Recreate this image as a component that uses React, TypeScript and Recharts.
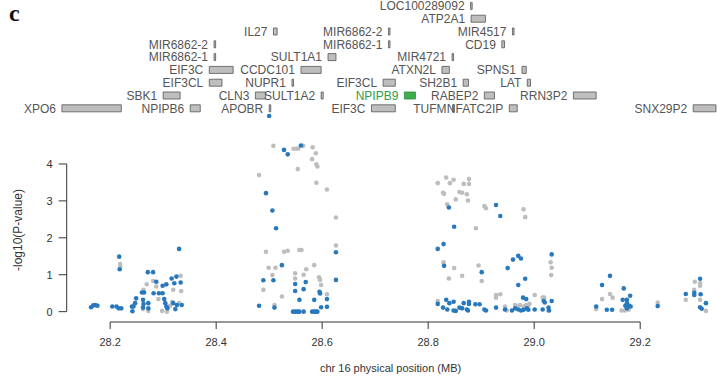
import { ComposedChart, Scatter, XAxis, YAxis, ReferenceArea, ReferenceLine } from 'recharts';

// axis ticks
const xTicks = [28.2, 28.4, 28.6, 28.8, 29.0, 29.2];
const yTicks = [0, 1, 2, 3, 4];

// gene track (MB), row 0 = lowest row
const geneNames = ['XPO6', 'NPIPB6', 'APOBR', 'EIF3C', 'TUFM', 'NFATC2IP', 'SNX29P2',
    'SBK1', 'CLN3', 'SULT1A2', 'NPIPB9', 'RABEP2', 'RRN3P2',
    'EIF3CL', 'NUPR1', 'EIF3CL', 'SH2B1', 'LAT',
    'EIF3C', 'CCDC101', 'ATXN2L', 'SPNS1',
    'MIR6862-1', 'SULT1A1', 'MIR4721',
    'MIR6862-2', 'MIR6862-1', 'CD19',
    'IL27', 'MIR6862-2', 'MIR4517',
    'ATP2A1',
    'LOC100289092'];
const geneStart = [28.109, 28.351, 28.500, 28.693, 28.846, 28.953, 29.300,
    28.300, 28.474, 28.598, 28.755, 28.906, 29.074,
    28.387, 28.543, 28.715, 28.866, 28.987,
    28.387, 28.560, 28.826, 28.977,
    28.396, 28.611, 28.845,
    28.396, 28.725, 28.939,
    28.508, 28.725, 28.959,
    28.881,
    28.880];
const geneEnd = [28.221, 28.370, 28.503, 28.738, 28.848, 28.968, 29.343,
    28.332, 28.493, 28.602, 28.776, 28.925, 29.117,
    28.411, 28.546, 28.738, 28.876, 28.993,
    28.432, 28.598, 28.840, 28.985,
    28.399, 28.626, 28.848,
    28.399, 28.728, 28.944,
    28.515, 28.728, 28.962,
    28.908,
    28.883];
const geneRow = [0, 0, 0, 0, 0, 0, 0,
    1, 1, 1, 1, 1, 1,
    2, 2, 2, 2, 2,
    3, 3, 3, 3,
    4, 4, 4,
    5, 5, 5,
    6, 6, 6,
    7,
    8];
const highlightGene = 'NPIPB9';

// SNPs: [position MB, -log10 p]
const greyPoints: [number, number][] = [
    [28.219, 1.29], [28.219, 1.22], [28.263, 0.59], [28.269, 0.74], [28.281, 0.83], [28.287, 0.68],
    [28.291, 0.34], [28.307, 0.0], [28.298, 0.02], [28.313, 0.16], [28.319, 0.59], [28.333, 0.97],
    [28.334, 0.56], [28.330, 0.23], [28.272, 0.02], [28.262, 0.07], [28.317, 0.27],
    [28.508, 4.49], [28.546, 4.41], [28.551, 4.41], [28.555, 4.42], [28.564, 4.49], [28.582, 4.45],
    [28.588, 4.29], [28.581, 4.13], [28.589, 3.99], [28.591, 3.93], [28.481, 3.70], [28.554, 3.86],
    [28.589, 3.49], [28.609, 3.31], [28.626, 2.55],
    [28.494, 1.62], [28.528, 1.62], [28.535, 1.65], [28.557, 1.67], [28.561, 1.67], [28.626, 1.79],
    [28.499, 1.19], [28.512, 1.19], [28.506, 0.99], [28.570, 1.15], [28.565, 1.00], [28.585, 1.26],
    [28.549, 1.04], [28.549, 0.90], [28.594, 0.93], [28.596, 0.86], [28.598, 0.72], [28.489, 0.59],
    [28.524, 0.41], [28.510, 0.18], [28.609, 0.47],
    [28.818, 3.48], [28.834, 3.63], [28.841, 3.48], [28.848, 3.57], [28.867, 3.46], [28.877, 3.46],
    [28.877, 3.59], [28.828, 3.22], [28.830, 3.19], [28.859, 3.24], [28.864, 3.22], [28.873, 3.18],
    [28.852, 3.04], [28.875, 3.01], [28.836, 2.91], [28.906, 2.86], [28.909, 2.80], [28.980, 2.77],
    [28.983, 2.56], [28.890, 2.26],
    [28.829, 1.34], [28.849, 1.18], [28.839, 0.90], [28.864, 0.97], [28.895, 1.25], [28.901, 0.83],
    [29.031, 1.34], [29.033, 1.19], [29.032, 0.99], [28.818, 0.29], [28.928, 0.38], [28.928, 0.45],
    [28.936, 0.47], [28.945, 0.14], [28.964, 0.18], [28.967, 0.14], [28.973, 0.18], [28.980, 0.14],
    [28.985, 0.18], [28.989, 0.16], [28.991, 0.21], [28.948, 0.03], [29.001, 0.45], [29.016, 0.38],
    [29.019, 0.38], [29.027, 0.03],
    [29.143, 0.48], [29.148, 0.38], [29.128, 0.34], [29.117, 0.07], [29.165, 0.03], [29.171, 0.03],
    [29.178, 0.05], [29.233, 0.25], [29.303, 0.81], [29.313, 0.77], [29.313, 0.70], [29.302, 0.59],
    [29.286, 0.32], [29.313, 0.32], [29.324, 0.02],
];

const bluePoints: [number, number][] = [
    [28.164, 0.12], [28.168, 0.17], [28.172, 0.18], [28.176, 0.16],
    [28.204, 0.14], [28.212, 0.14], [28.216, 0.09], [28.221, 0.09], [28.217, 1.49], [28.218, 1.15],
    [28.241, 0.14], [28.244, 0.14], [28.242, 0.01], [28.247, 0.23], [28.249, 0.36],
    [28.260, 0.52], [28.264, 0.52], [28.262, 0.32], [28.263, 0.21], [28.262, 0.11],
    [28.271, 1.07], [28.281, 1.07], [28.272, 0.23], [28.272, 0.09], [28.282, 0.50], [28.287, 0.81],
    [28.292, 0.50], [28.299, 0.70], [28.306, 0.74], [28.304, 0.23], [28.306, 0.14], [28.308, 0.09],
    [28.302, 0.34], [28.316, 0.90], [28.325, 0.95], [28.321, 0.77], [28.330, 1.70], [28.319, 0.23],
    [28.326, 0.18], [28.335, 0.18], [28.323, 0.07], [28.333, 0.79], [28.299, 0.50],
    [28.500, 5.30],
    [28.560, 4.50], [28.528, 4.38], [28.535, 4.26], [28.494, 3.21], [28.506, 2.74], [28.513, 2.26],
    [28.626, 1.61], [28.524, 1.26], [28.489, 0.85], [28.508, 0.85], [28.626, 0.86], [28.549, 0.75],
    [28.569, 0.80], [28.549, 0.56], [28.565, 0.61], [28.595, 0.54], [28.596, 0.49], [28.557, 0.32],
    [28.585, 0.32], [28.609, 0.34], [28.481, 0.16], [28.510, 0.11], [28.598, 0.12], [28.609, 0.13],
    [28.545, 0], [28.549, 0], [28.553, 0], [28.557, 0], [28.565, 0], [28.581, 0], [28.585, 0],
    [28.588, 0], [28.591, 0],
    [28.839, 2.82], [28.928, 2.89], [28.936, 2.59], [28.849, 2.30], [28.829, 1.83], [28.818, 1.70],
    [28.830, 1.24], [28.901, 1.07], [28.960, 1.41], [28.970, 1.51], [28.975, 1.44], [28.950, 1.18],
    [28.983, 0.89], [28.970, 0.72], [29.033, 1.55], [28.979, 0.38], [28.985, 0.34], [29.018, 0.29],
    [29.020, 0.25], [28.818, 0.21], [28.834, 0.32], [28.840, 0.23], [28.848, 0.27], [28.867, 0.23],
    [28.877, 0.27], [28.877, 0.21], [28.889, 0.20], [28.897, 0.20], [28.828, 0.11], [28.836, 0.06],
    [28.848, 0.03], [28.852, 0.02], [28.859, 0.11], [28.864, 0.09], [28.873, 0.06], [28.875, 0.03],
    [28.906, 0.06], [28.909, 0.03], [28.928, 0.11], [28.945, 0.06], [28.958, 0.03], [28.964, 0.09],
    [28.970, 0.06], [28.975, 0.03], [28.980, 0.05], [28.986, 0.09], [28.989, 0.05], [29.001, 0.06],
    [29.016, 0.06], [29.027, 0.11], [29.028, 0.03], [29.033, 0.29],
    [29.117, 0.14], [29.143, 0.97], [29.128, 0.72], [29.169, 0.63], [29.181, 0.43], [29.167, 0.32],
    [29.175, 0.32], [29.175, 0.23], [29.179, 0.16], [29.182, 0.14], [29.137, 0.05], [29.147, 0.05],
    [29.172, 0.16], [29.175, 0.09], [29.233, 0.15], [29.286, 0.48], [29.302, 0.51], [29.302, 0.45],
    [29.313, 0.89], [29.314, 0.47], [29.324, 0.23], [29.313, 0.12], [29.316, 0.08],
];

const X_MIN = 28.118;
const X_MAX = 29.34;
const Y_MIN = -0.28;
const Y_MAX = 8.44;
// gene rows sit above the association panel on the same y scale
const ROW_BASE = 5.507;
const ROW_STEP = 0.3466;
const ROW_HALF = 0.095;
const MIN_GENE_WIDTH = 0.003;

const BLUE = '#2878BE';
const GREY = '#BDBDBD';
const AXIS = '#333333';

const toData = (pts: [number, number][]) => pts.map(([x, y]) => ({ x, y }));

const dot = (color: string) => (props: any) => (
    <circle cx={props.cx} cy={props.cy} r={2.3} fill={color} />
);

export default function App() {
    const genes = geneNames.map((name, i) => {
        const mid = ROW_BASE + geneRow[i] * ROW_STEP;
        const end = Math.max(geneEnd[i], geneStart[i] + MIN_GENE_WIDTH);
        return { name, x1: geneStart[i], x2: end, y1: mid - ROW_HALF, y2: mid + ROW_HALF, hi: name === highlightGene };
    });

    return (
        <div style={{ position: 'absolute', left: 0, top: 0, width: 724, height: 382, fontFamily: '"Liberation Sans", Arial, sans-serif', background: '#fff' }}>
            <div style={{ position: 'absolute', left: 9, top: 0, fontFamily: '"Liberation Serif", "DejaVu Serif", serif', fontWeight: 'bold', fontSize: 24, color: '#111' }}>
                c
            </div>
            <div style={{ position: 'absolute', left: 18, top: 230, transform: 'translate(-50%, -50%) rotate(-90deg)', whiteSpace: 'nowrap', fontSize: 12, color: AXIS }}>
                -log10(P-value)
            </div>
            <ComposedChart width={724} height={382} margin={{ top: 0, right: 9.6, bottom: 4, left: 26.7 }}>
                <XAxis
                    type="number"
                    dataKey="x"
                    domain={[X_MIN, X_MAX]}
                    ticks={xTicks}
                    allowDataOverflow
                    axisLine={false}
                    tickLine={{ stroke: AXIS }}
                    tickSize={7}
                    tickMargin={9}
                    tick={{ fill: AXIS, fontSize: 11 }}
                    tickFormatter={(v: number) => v.toFixed(1)}
                    height={56}
                    label={{ value: 'chr 16 physical position (MB)', position: 'insideBottom', offset: 6, fill: AXIS, fontSize: 11 }}
                />
                <YAxis
                    type="number"
                    dataKey="y"
                    domain={[Y_MIN, Y_MAX]}
                    ticks={yTicks}
                    allowDataOverflow
                    axisLine={false}
                    tickLine={{ stroke: AXIS }}
                    tickSize={8}
                    tickMargin={6}
                    tick={{ fill: AXIS, fontSize: 11 }}
                    width={40}
                />
                {/* R-style axis lines that stop at the outer ticks */}
                <ReferenceLine segment={[{ x: xTicks[0], y: Y_MIN }, { x: xTicks[xTicks.length - 1], y: Y_MIN }]} stroke={AXIS} strokeWidth={1} ifOverflow="visible" />
                <ReferenceLine segment={[{ x: X_MIN, y: yTicks[0] }, { x: X_MIN, y: yTicks[yTicks.length - 1] }]} stroke={AXIS} strokeWidth={1} ifOverflow="visible" />

                {genes.map((g, i) => (
                    <ReferenceArea
                        key={`gene-${i}`}
                        x1={g.x1}
                        x2={g.x2}
                        y1={g.y1}
                        y2={g.y2}
                        fill={g.hi ? '#3DAE4E' : '#BEBEBE'}
                        fillOpacity={1}
                        stroke={g.hi ? '#2E8B3E' : '#555555'}
                        strokeWidth={0.8}
                        ifOverflow="visible"
                        label={{ value: g.name, position: 'left', offset: 6, fill: g.hi ? '#2E9E48' : '#555555', fontSize: 12 }}
                    />
                ))}

                <Scatter data={toData(greyPoints)} shape={dot(GREY)} isAnimationActive={false} />
                <Scatter data={toData(bluePoints)} shape={dot(BLUE)} isAnimationActive={false} />
            </ComposedChart>
        </div>
    );
}
